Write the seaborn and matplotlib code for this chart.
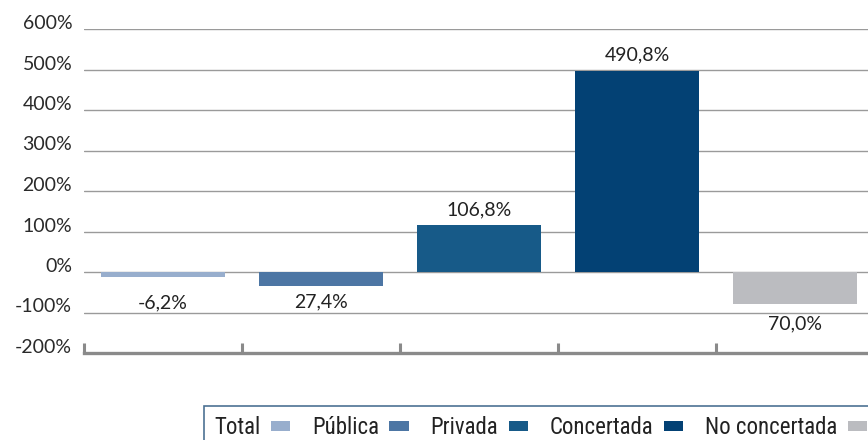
import matplotlib
matplotlib.use("Agg")
import matplotlib.pyplot as plt
from matplotlib import font_manager
from matplotlib.patches import Patch
from matplotlib.ticker import FixedLocator
import seaborn as sns

# data
categories = ["Total", "Pública", "Privada", "Concertada", "No concertada"]
bar_values = [-13, -34, 115, 496, -78]          # drawn bar heights (%)
value_labels = ["-6,2%", "27,4%", "106,8%", "490,8%", "70,0%"]
y_ticks = [-200, -100, 0, 100, 200, 300, 400, 500, 600]
colors = ["#98aecd", "#4d76a4", "#175a88", "#034174", "#bbbcc0"]


def pick_font(names):
    for n in names:
        try:
            font_manager.findfont(n, fallback_to_default=False)
            return n
        except ValueError:
            pass
    return "DejaVu Sans"


main_font = pick_font(["Lato", "Noto Sans", "DejaVu Sans"])
narrow_font = pick_font(["Liberation Sans Narrow", "DejaVu Sans Condensed", "Roboto Condensed", "Lato"])

sns.set_style("white")
plt.rcParams["font.family"] = [main_font, "DejaVu Sans"]

fig = plt.figure(figsize=(8.68, 4.4), dpi=100)
ax = fig.add_axes([84 / 868, 1 - 353 / 440, 790 / 868, 324 / 440])

sns.barplot(x=categories, y=bar_values, hue=categories, palette=colors,
            width=0.78, legend=False, ax=ax, saturation=1, zorder=3,
            linewidth=0, edgecolor="none")

ax.set_xlim(-0.5, 4.5)
ax.set_ylim(-200, 600)
ax.set_yticks(y_ticks)
ax.set_yticklabels([f"{v}%" for v in y_ticks], fontsize=14, color="#2a2a2a")
for lab in ax.get_yticklabels():
    lab.set_verticalalignment("baseline")
ax.tick_params(axis="y", length=0, pad=8.5)

# gridlines
for v in y_ticks[1:]:
    ax.axhline(v, color="#9a9a9a", lw=1.0, zorder=1)

# bottom spine with upward ticks at category boundaries
for s in ["top", "right", "left"]:
    ax.spines[s].set_visible(False)
ax.spines["bottom"].set_color("#8a8a8a")
ax.spines["bottom"].set_linewidth(2.4)
ax.set_xticks([])
ax.xaxis.set_minor_locator(FixedLocator([-0.5, 0.5, 1.5, 2.5, 3.5]))
ax.tick_params(axis="x", which="minor", direction="in", length=7,
               width=2.2, color="#8a8a8a", bottom=True)
ax.set_xlabel("")
ax.set_ylabel("")

# value labels
offsets = [26, 16, 16, 16, 20]
for i, (v, lab) in enumerate(zip(bar_values, value_labels)):
    sign = 1 if v >= 0 else -1
    ax.annotate(lab, (i, v), xytext=(0, sign * offsets[i]),
                textcoords="offset pixels", ha="center", va="center",
                fontsize=14, color="#222222")

# legend: label first, then the colour patch
handles = [Patch(facecolor=c, edgecolor="none", label=n)
           for c, n in zip(colors, categories)]
leg = fig.legend(handles=handles, loc="upper left",
                 bbox_to_anchor=(204 / 868, 1 - 406 / 440),
                 bbox_transform=fig.transFigure, ncol=5, markerfirst=False,
                 frameon=True, fancybox=False, borderaxespad=0,
                 handlelength=0.85, handleheight=0.3, handletextpad=0.45,
                 columnspacing=0.95, borderpad=0.45,
                 prop={"family": [narrow_font, "DejaVu Sans"], "size": 16.5})
leg.get_frame().set_edgecolor("#1f4e79")
leg.get_frame().set_linewidth(1.2)
for t in leg.get_texts():
    t.set_color("#222222")

fig.savefig("out.png", dpi=100)
